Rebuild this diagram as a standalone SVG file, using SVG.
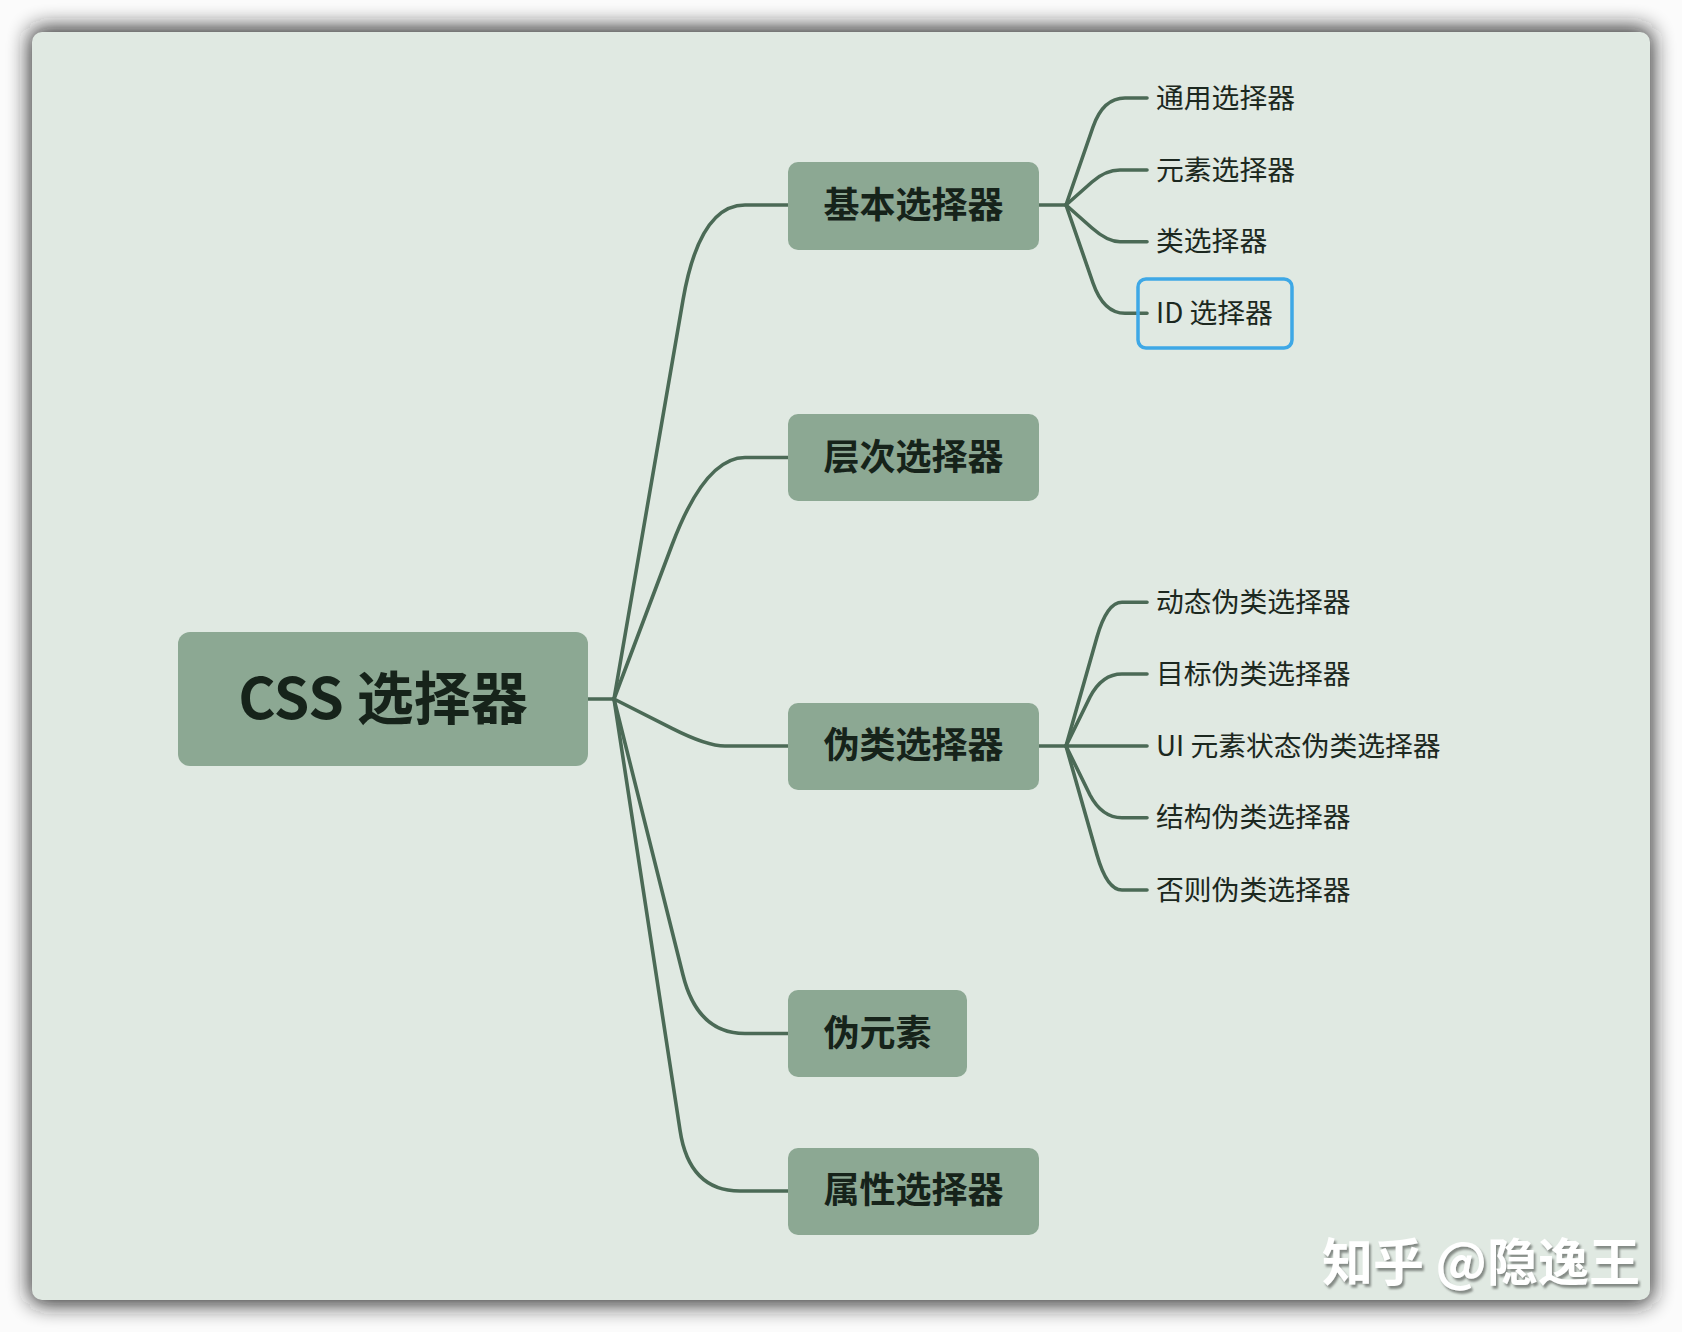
<svg xmlns="http://www.w3.org/2000/svg" width="1682" height="1332" viewBox="0 0 1682 1332">
  <defs>
    <filter id="panelShadow" x="-5%" y="-5%" width="110%" height="110%">
      <feGaussianBlur stdDeviation="11"/>
    </filter>
    <filter id="wmShadow" x="-10%" y="-20%" width="120%" height="140%">
      <feDropShadow dx="2" dy="3" stdDeviation="1.2" flood-color="#7a807c" flood-opacity="0.9"/>
    </filter>
  </defs>
  <style>
    .bg { fill: #fbfbfb; }
    .panel { fill: #e0e9e2; }
    .node { fill: #8ca893; }
    .conn { fill: none; stroke: #4b6a56; stroke-width: 3.6; stroke-linecap: round; stroke-linejoin: round; }
    .t-root { font-family: "Noto Sans CJK SC", "Noto Sans", sans-serif; font-size: 57px; font-weight: 700; fill: #16231a; }
    .t-main { font-family: "Noto Sans CJK SC", "Noto Sans", sans-serif; font-size: 36px; font-weight: 700; fill: #16231a; }
    .t-leaf { font-family: "Noto Sans CJK SC", "Noto Sans", sans-serif; font-size: 27.8px; font-weight: 400; fill: #1c2820; }
    .sel { fill: none; stroke: #3ea8e6; stroke-width: 3.5; }
    .wm { font-family: "Noto Sans CJK SC", "Noto Sans", sans-serif; font-size: 51px; font-weight: 700; fill: #ffffff; }
  </style>

  <rect class="bg" x="0" y="0" width="1682" height="1332"/>
  <rect x="30" y="28" width="1622" height="1276" rx="12" fill="#1e1e1e" opacity="0.95" filter="url(#panelShadow)"/>
  <rect class="panel" x="32" y="32" width="1618" height="1268" rx="10"/>

  <g id="connectors">
    <!-- root to level 1 -->
    <path class="conn" d="M 588 699 L 614 699"/>
    <path class="conn" d="M 614 699 L 683 300 Q 699.5 205 745 205 L 788 205"/>
    <path class="conn" d="M 614 699 L 672 545 Q 705 457.5 745 457.5 L 788 457.5"/>
    <path class="conn" d="M 614 699 L 672 728.3 Q 707 746 725 746 L 788 746"/>
    <path class="conn" d="M 614 699 L 683 975 Q 697.5 1033.5 745 1033.5 L 788 1033.5"/>
    <path class="conn" d="M 614 699 L 680 1130 Q 689 1191 740 1191 L 788 1191"/>
    <!-- 基本选择器 children -->
    <path class="conn" d="M 1039 205 L 1066 205"/>
    <path class="conn" d="M 1066 205 L 1093 127 Q 1103 98 1125 98 L 1147 98"/>
    <path class="conn" d="M 1066 205 L 1092 182 Q 1105.5 170 1120 170 L 1147 170"/>
    <path class="conn" d="M 1066 205 L 1092 228 Q 1107.5 241.7 1120 241.7 L 1147 241.7"/>
    <path class="conn" d="M 1066 205 L 1093 283 Q 1103.5 313.3 1125 313.3 L 1147 313.3"/>
    <!-- 伪类选择器 children -->
    <path class="conn" d="M 1039 746 L 1066 746"/>
    <path class="conn" d="M 1066 746 L 1097 637 Q 1107 602.3 1122 602.3 L 1147 602.3"/>
    <path class="conn" d="M 1066 746 L 1090 697 Q 1102 674 1122 674 L 1147 674"/>
    <path class="conn" d="M 1066 746 L 1147 746"/>
    <path class="conn" d="M 1066 746 L 1090 795 Q 1102 817.7 1122 817.7 L 1147 817.7"/>
    <path class="conn" d="M 1066 746 L 1097 855 Q 1107 890 1122 890 L 1147 890"/>
  </g>

  <g id="root">
    <rect class="node" x="178" y="632" width="410" height="134" rx="12"/>
    <text class="t-root" x="383" y="694" text-anchor="middle" dominant-baseline="central">CSS 选择器</text>
  </g>

  <g id="n-basic">
    <rect class="node" x="788" y="162" width="251" height="88" rx="10"/>
    <text class="t-main" x="913.5" y="202" text-anchor="middle" dominant-baseline="central">基本选择器</text>
  </g>
  <g id="n-hier">
    <rect class="node" x="788" y="414" width="251" height="87" rx="10"/>
    <text class="t-main" x="913.5" y="454" text-anchor="middle" dominant-baseline="central">层次选择器</text>
  </g>
  <g id="n-pclass">
    <rect class="node" x="788" y="703" width="251" height="87" rx="10"/>
    <text class="t-main" x="913.5" y="742" text-anchor="middle" dominant-baseline="central">伪类选择器</text>
  </g>
  <g id="n-pelem">
    <rect class="node" x="788" y="990" width="179" height="87" rx="10"/>
    <text class="t-main" x="877.5" y="1030" text-anchor="middle" dominant-baseline="central">伪元素</text>
  </g>
  <g id="n-attr">
    <rect class="node" x="788" y="1148" width="251" height="87" rx="10"/>
    <text class="t-main" x="913.5" y="1187" text-anchor="middle" dominant-baseline="central">属性选择器</text>
  </g>

  <g id="l-universal">
    <text class="t-leaf" x="1156" y="95.5" dominant-baseline="central">通用选择器</text>
  </g>
  <g id="l-element">
    <text class="t-leaf" x="1156" y="167.5" dominant-baseline="central">元素选择器</text>
  </g>
  <g id="l-class">
    <text class="t-leaf" x="1156" y="239.2" dominant-baseline="central">类选择器</text>
  </g>
  <g id="l-id">
    <rect class="sel" x="1138" y="279" width="154" height="69" rx="8"/>
    <text class="t-leaf" x="1156" y="310.8" dominant-baseline="central">ID 选择器</text>
  </g>

  <g id="l-dynamic">
    <text class="t-leaf" x="1156" y="599.8" dominant-baseline="central">动态伪类选择器</text>
  </g>
  <g id="l-target">
    <text class="t-leaf" x="1156" y="671.5" dominant-baseline="central">目标伪类选择器</text>
  </g>
  <g id="l-uistate">
    <text class="t-leaf" x="1156" y="743.5" dominant-baseline="central">UI 元素状态伪类选择器</text>
  </g>
  <g id="l-struct">
    <text class="t-leaf" x="1156" y="815.2" dominant-baseline="central">结构伪类选择器</text>
  </g>
  <g id="l-negation">
    <text class="t-leaf" x="1156" y="887.5" dominant-baseline="central">否则伪类选择器</text>
  </g>

  <text class="wm" x="1322" y="1259" dominant-baseline="central" filter="url(#wmShadow)">知乎 @隐逸王</text>
</svg>
